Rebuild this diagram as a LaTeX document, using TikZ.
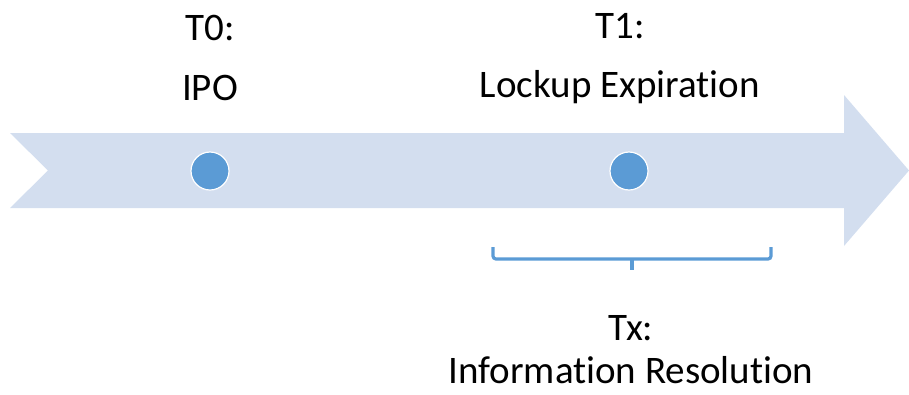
\documentclass[tikz,border=0pt]{standalone}
\usepackage{fontspec}
\setmainfont[RawFeature={-liga;-clig}]{Carlito}
\definecolor{bandblue}{HTML}{D3DEEF}
\definecolor{dotblue}{HTML}{5B9BD5}
\begin{document}
\begin{tikzpicture}[x=1pt,y=-1pt,
  lbl/.style={anchor=base,inner sep=0pt,font=\fontsize{39}{46}\selectfont,text=black},
  dot/.style={circle,fill=dotblue,draw=white,line width=1.2pt,minimum size=38pt,inner sep=0pt},
  bracestyle/.style={draw=dotblue,line width=3.2pt,rounded corners=3pt}]
\useasboundingbox (0,0) rectangle (909,394);
% timeline arrow
\fill[bandblue] (10,133) -- (844,133) -- (844,95) -- (909,170.5) -- (844,246) -- (844,208) -- (10,208) -- (48,170.5) -- cycle;
% dots
\node[dot] (t0) at (210,171) {};
\node[dot] (t1) at (629,171) {};
% labels
\node[lbl] (t0a) at (210,40) {T0:};
\node[lbl] (t0b) at (210,100) {IPO};
\node[lbl] (t1a) at (620,38) {T1:};
\node[lbl] (t1b) at (620,97) {Lockup Expiration};
\node[lbl] (txa) at (631,340) {Tx:};
\node[lbl] (txb) at (631,383) {Information Resolution};
% brace
\coordinate (bl) at (493,247);
\coordinate (br) at (771,247);
\coordinate (bm) at (632,259);
\coordinate (bt) at (632,270);
\draw[bracestyle] (bl) -- (bl |- bm) -- (br |- bm) -- (br);
\draw[draw=dotblue,line width=3.2pt] (bm) -- (bt);
\end{tikzpicture}
\end{document}
